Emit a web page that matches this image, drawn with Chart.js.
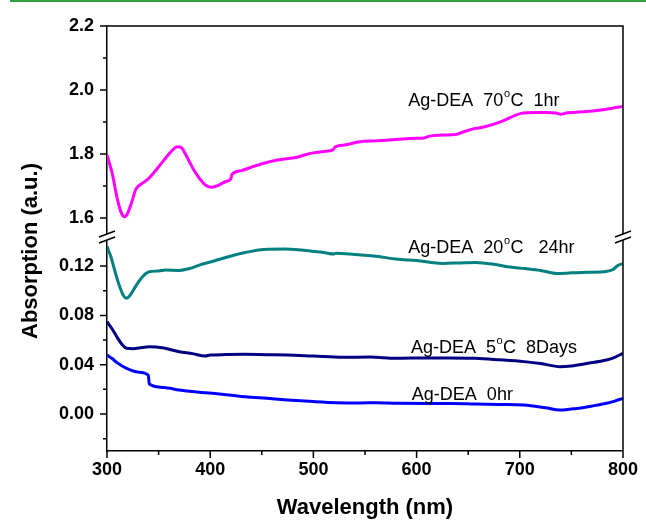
<!DOCTYPE html>
<html>
<head>
<meta charset="utf-8">
<script src="https://cdn.jsdelivr.net/npm/chart.js@4.4.1/dist/chart.umd.min.js"></script>
<style>
  html, body { margin: 0; padding: 0; background: #fff; }
  #wrap { position: relative; width: 646px; height: 521px; }
  #topline { position: absolute; left: 10px; right: 0; top: 0; height: 2px; background: #34a045; }
</style>
</head>
<body>
<div id="wrap">
  <canvas id="absChart" width="646" height="521"></canvas>
  <div id="topline"></div>
</div>
<script>
// Ag-DEA 70°C 1hr (upper axis)
const wl70 = [300, 305, 310, 314, 317, 320, 324, 328, 334, 340, 345, 350, 355, 360, 365, 368, 372, 376, 380, 385,
  390, 395, 401, 408, 415, 420, 421, 430, 440, 452, 465, 484, 497, 510, 519, 521, 530, 545, 560, 580,
  599, 605, 612, 625, 638, 648, 657, 666, 682, 695, 701, 715, 726, 735, 740, 745, 752, 765, 784, 795, 800];
const abs70 = [1.797, 1.74, 1.66, 1.615, 1.604, 1.615, 1.65, 1.69, 1.708, 1.722, 1.74, 1.76, 1.78, 1.80, 1.817, 1.823, 1.82, 1.80, 1.775, 1.745,
  1.722, 1.704, 1.696, 1.702, 1.714, 1.722, 1.736, 1.748, 1.759, 1.771, 1.781, 1.79, 1.802, 1.808, 1.813, 1.822, 1.828, 1.838, 1.841, 1.845,
  1.849, 1.849, 1.855, 1.859, 1.861, 1.872, 1.88, 1.885, 1.901, 1.92, 1.927, 1.93, 1.93, 1.928, 1.924, 1.928, 1.93, 1.933, 1.94, 1.946, 1.948];

// Ag-DEA 20°C 24hr
const wl20 = [300, 304, 308, 312, 316, 319, 323, 328, 334, 341, 350, 357, 370, 380, 390, 401, 415, 433, 452, 472,
  485, 497, 510, 520, 522, 540, 561, 580, 600, 625, 640, 657, 675, 688, 705, 720, 736, 750, 765, 781, 790, 795, 800];
const abs20 = [0.136, 0.127, 0.115, 0.104, 0.096, 0.094, 0.097, 0.104, 0.111, 0.1154, 0.116, 0.1168, 0.1165, 0.118, 0.121, 0.1235, 0.127, 0.1308, 0.1335, 0.1338,
  0.1333, 0.1322, 0.131, 0.1298, 0.1305, 0.1295, 0.128, 0.1257, 0.1245, 0.1222, 0.1225, 0.123, 0.1215, 0.1195, 0.118, 0.1165, 0.114, 0.1145, 0.115, 0.1154, 0.117, 0.1205, 0.122];

// Ag-DEA 5°C 8Days
const wl5 = [300, 305, 310, 315, 319, 325, 334, 341, 355, 370, 383, 395, 400, 415, 433, 455, 475, 500, 529, 555,
  580, 610, 630, 657, 680, 704, 720, 739, 750, 765, 784, 792, 800];
const abs5 = [0.0749, 0.069, 0.062, 0.056, 0.0533, 0.053, 0.054, 0.0546, 0.0535, 0.0505, 0.049, 0.047, 0.0478, 0.0482, 0.0484, 0.0481, 0.0479, 0.047, 0.046, 0.0462,
  0.0452, 0.0455, 0.0455, 0.0452, 0.044, 0.0425, 0.041, 0.0384, 0.039, 0.041, 0.0438, 0.046, 0.0492];

// Ag-DEA 0hr
const wl0 = [300, 305, 310, 319, 330, 340, 341, 355, 370, 385, 402, 418, 434, 455, 475, 500, 523, 545, 561, 580,
  610, 635, 657, 680, 704, 725, 739, 755, 770, 784, 792, 800];
const abs0 = [0.0479, 0.045, 0.0415, 0.037, 0.034, 0.0316, 0.0243, 0.0215, 0.0195, 0.018, 0.0168, 0.0155, 0.014, 0.0127, 0.0114, 0.0101, 0.0092, 0.009, 0.0091, 0.0087,
  0.0085, 0.0085, 0.0081, 0.0078, 0.0073, 0.005, 0.0032, 0.0045, 0.0065, 0.0087, 0.0105, 0.0127];

const seriesLabels = ['Ag-DEA  70°C  1hr', 'Ag-DEA  20°C   24hr', 'Ag-DEA  5°C  8Days', 'Ag-DEA  0hr'];
const seriesColors = ['#ff00ff', '#008080', '#000080', '#0000ff'];

const FONT = '"Liberation Sans", Arial, Helvetica, sans-serif';
const pts = (xs, ys) => xs.map((x, i) => ({ x: x, y: ys[i] }));

// where each label sits: [wavelength, value, axis]
const labelAnchors = [[592, 1.9656, 'yHi'], [592, 0.1346, 'yLo'], [594.5, 0.0535, 'yLo'], [595.4, 0.0154, 'yLo']];

const decorations = {
    id: 'decorations',
    afterDraw(chart) {
        const ctx = chart.ctx;
        const a = chart.chartArea;
        const sx = chart.scales.x, hi = chart.scales.yHi, lo = chart.scales.yLo;
        const breakY = hi.bottom;
        ctx.save();
        ctx.strokeStyle = '#000';
        ctx.lineWidth = 1.5;

        // frame top + right
        ctx.beginPath();
        ctx.moveTo(a.left, a.top);
        ctx.lineTo(a.right, a.top);
        ctx.lineTo(a.right, a.bottom);
        ctx.stroke();

        // tick marks, long for labelled ones
        ctx.beginPath();
        [hi, lo].forEach(s => s.ticks.forEach(t => {
            const py = s.getPixelForValue(t.value);
            if (Math.abs(py - breakY) < 6) return;
            const len = t.label ? 7 : 4;
            ctx.moveTo(a.left, py);
            ctx.lineTo(a.left - len, py);
        }));
        sx.ticks.forEach(t => {
            const px = sx.getPixelForValue(t.value);
            const len = t.label ? 7 : 4;
            ctx.moveTo(px, a.bottom);
            ctx.lineTo(px, a.bottom + len);
        });
        ctx.stroke();

        // axis break marks
        [a.left, a.right].forEach(bx => {
            ctx.fillStyle = '#fff';
            ctx.beginPath();
            ctx.moveTo(bx - 8, breakY);
            ctx.lineTo(bx + 8, breakY - 6);
            ctx.lineTo(bx + 8, breakY);
            ctx.lineTo(bx - 8, breakY + 6);
            ctx.closePath();
            ctx.fill();
            ctx.beginPath();
            ctx.moveTo(bx - 8, breakY);
            ctx.lineTo(bx + 8, breakY - 6);
            ctx.moveTo(bx - 8, breakY + 6);
            ctx.lineTo(bx + 8, breakY);
            ctx.stroke();
        });

        // y title
        ctx.save();
        ctx.translate(31, 251);
        ctx.rotate(-Math.PI / 2);
        ctx.fillStyle = '#000';
        ctx.font = 'bold 22px ' + FONT;
        ctx.textAlign = 'center';
        ctx.textBaseline = 'middle';
        ctx.fillText('Absorption (a.u.)', 0, 0);
        ctx.restore();

        // series labels with superscript degree sign
        ctx.fillStyle = '#000';
        ctx.textBaseline = 'middle';
        ctx.textAlign = 'left';
        seriesLabels.forEach((txt, i) => {
            const [w, v, ax] = labelAnchors[i];
            let x = sx.getPixelForValue(w);
            const y = chart.scales[ax].getPixelForValue(v);
            const parts = txt.split('°');
            ctx.font = '18px ' + FONT;
            ctx.fillText(parts[0], x, y);
            x += ctx.measureText(parts[0]).width;
            if (parts.length > 1) {
                ctx.font = '11px ' + FONT;
                ctx.fillText('o', x + 0.5, y - 7);
                x += ctx.measureText('o').width + 1;
                ctx.font = '18px ' + FONT;
                ctx.fillText(parts[1], x, y);
            }
        });
        ctx.restore();
    }
};

const tickFont = { family: FONT, size: 18, weight: 'bold' };

const ctx = document.getElementById('absChart').getContext('2d');
const chart = new Chart(ctx, {
    type: 'line',
    data: {
        datasets: [
            { label: seriesLabels[0], data: pts(wl70, abs70), yAxisID: 'yHi', borderColor: seriesColors[0] },
            { label: seriesLabels[1], data: pts(wl20, abs20), yAxisID: 'yLo', borderColor: seriesColors[1] },
            { label: seriesLabels[2], data: pts(wl5, abs5), yAxisID: 'yLo', borderColor: seriesColors[2] },
            { label: seriesLabels[3], data: pts(wl0, abs0), yAxisID: 'yLo', borderColor: seriesColors[3] }
        ]
    },
    options: {
        responsive: false,
        animation: false,
        layout: { padding: { top: 26, right: 16, left: 0, bottom: 0 } },
        elements: {
            line: { borderWidth: 3, cubicInterpolationMode: 'monotone' },
            point: { radius: 0, hoverRadius: 0 }
        },
        plugins: {
            legend: { display: false },
            tooltip: { enabled: false }
        },
        scales: {
            x: {
                type: 'linear',
                min: 300,
                max: 800,
                ticks: {
                    stepSize: 50,
                    autoSkip: false,
                    maxRotation: 0,
                    padding: 8,
                    color: '#000',
                    font: tickFont,
                    callback: v => (v % 100 === 0 ? String(v) : '')
                },
                grid: { display: false, drawTicks: false },
                border: { color: '#000', width: 1.5 },
                title: {
                    display: true,
                    text: 'Wavelength (nm)',
                    color: '#000',
                    font: { family: FONT, size: 22, weight: 'bold' },
                    padding: { top: 0, bottom: 0 }
                },
                afterFit: s => { s.height = 70; }
            },
            // left boxes get laid out bottom-up here, so the lower segment comes first
            yLo: {
                type: 'linear',
                position: 'left',
                stack: 'abs',
                stackWeight: 214,
                min: -0.03,
                max: 0.1436,
                ticks: {
                    stepSize: 0.02,
                    includeBounds: false,
                    autoSkip: false,
                    padding: 13,
                    color: '#000',
                    font: tickFont,
                    callback: v => (Math.round(v * 100) % 4 === 0 ? (Math.round(v * 100) / 100).toFixed(2) : '')
                },
                grid: { display: false, drawTicks: false },
                border: { color: '#000', width: 1.5 },
                afterFit: s => { s.width = 107; }
            },
            yHi: {
                type: 'linear',
                position: 'left',
                stack: 'abs',
                stackWeight: 211,
                min: 1.5406,
                max: 2.2,
                ticks: {
                    stepSize: 0.1,
                    includeBounds: false,
                    autoSkip: false,
                    padding: 13,
                    color: '#000',
                    font: tickFont,
                    callback: v => (Math.round(v * 10) % 2 === 0 ? (Math.round(v * 10) / 10).toFixed(1) : '')
                },
                grid: { display: false, drawTicks: false },
                border: { color: '#000', width: 1.5 },
                afterFit: s => { s.width = 107; }
            }
        }
    },
    plugins: [decorations]
});
</script>
</body>
</html>
